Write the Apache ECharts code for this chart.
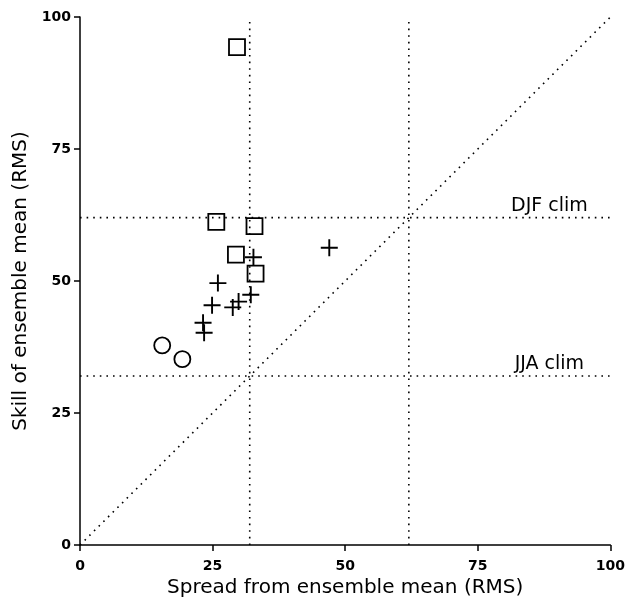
<!DOCTYPE html>
<html>
<head>
    <meta charset="utf-8" />
    <title>Spread vs skill</title>
    <script src="https://cdn.jsdelivr.net/npm/echarts@6/dist/echarts.min.js"></script>
    <style>
        html, body { margin: 0; padding: 0; background: #fff; }
        #chart { width: 628px; height: 606px; }
    </style>
</head>
<body>
    <div id="chart"></div>

    <script type="text/javascript">
        // data: [spread, skill]
        var squarePts = [[29.6, 94.3], [25.7, 61.2], [32.9, 60.4], [29.4, 55.0], [33.1, 51.4]];
        var plusPts = [[47.0, 56.3], [32.7, 54.5], [26.0, 49.6], [24.9, 45.4], [23.2, 42.1],
                       [23.4, 40.2], [28.8, 45.0], [29.9, 46.1], [32.2, 47.4]];
        var circlePts = [[15.5, 37.8], [19.3, 35.2]];

        // climatology levels (same on both axes)
        var climNames = ['DJF clim', 'JJA clim'];
        var climValues = [62, 32];
        var axisTicks = [0, 25, 50, 75, 100];

        var ink = '#000';
        var font = 'DejaVu Sans';
        var dotStyle = { color: ink, width: 1.6, type: [1.6, 5] };

        var plusPath = 'path://M7.1,0h1.8v7.1h7.1v1.8h-7.1v7.1h-1.8v-7.1h-7.1v-1.8h7.1z';

        function refLine(pts) {
            return {
                type: 'line',
                data: pts,
                symbol: 'none',
                silent: true,
                lineStyle: dotStyle,
                z: 1
            };
        }

        var series = [];
        // horizontal and vertical climatology lines
        climValues.forEach(function(v) {
            series.push(refLine([[0, v], [100, v]]));
            series.push(refLine([[v, 0], [v, 100]]));
        });
        // diagonal: spread == skill
        series.push(refLine([[axisTicks[0], axisTicks[0]], [axisTicks[4], axisTicks[4]]]));

        series.push({
            type: 'scatter',
            data: squarePts,
            symbol: 'rect',
            symbolSize: 16,
            itemStyle: { color: 'rgba(255,255,255,0)', borderColor: ink, borderWidth: 1.8, opacity: 1 },
            z: 3
        });
        series.push({
            type: 'scatter',
            data: plusPts,
            symbol: plusPath,
            symbolSize: 17,
            itemStyle: { color: ink, opacity: 1 },
            z: 3
        });
        series.push({
            type: 'scatter',
            data: circlePts,
            symbol: 'circle',
            symbolSize: 16,
            itemStyle: { color: 'rgba(255,255,255,0)', borderColor: ink, borderWidth: 1.8, opacity: 1 },
            z: 3
        });
        // text labels above the climatology lines
        series.push({
            type: 'scatter',
            data: climNames.map(function(n, i) { return [88.5, climValues[i], n]; }),
            symbolSize: 0,
            silent: true,
            itemStyle: { opacity: 1 },
            label: {
                show: true,
                position: 'top',
                distance: 2,
                formatter: function(p) { return p.value[2]; },
                color: ink,
                opacity: 1,
                fontFamily: font,
                fontSize: 19
            }
        });

        var chart = echarts.init(document.getElementById('chart'));
        chart.setOption({
            animation: false,
            grid: { left: 80, right: 15, top: 17, bottom: 61 },
            xAxis: {
                type: 'value',
                min: 0,
                max: 100,
                interval: 25,
                name: 'Spread from ensemble mean (RMS)',
                nameLocation: 'middle',
                nameGap: 32,
                nameTextStyle: { color: ink, fontFamily: font, fontSize: 20 },
                axisLine: { lineStyle: { color: ink, width: 1.5 } },
                axisTick: { lineStyle: { color: ink, width: 1.5 }, length: 6 },
                axisLabel: { color: ink, fontFamily: font, fontWeight: 'bold', fontSize: 14, margin: 14 },
                splitLine: { show: false }
            },
            yAxis: {
                type: 'value',
                min: 0,
                max: 100,
                interval: 25,
                name: 'Skill of ensemble mean (RMS)',
                nameLocation: 'middle',
                nameGap: 43,
                nameTextStyle: { color: ink, fontFamily: font, fontSize: 20 },
                axisLine: { lineStyle: { color: ink, width: 1.5 } },
                axisTick: { lineStyle: { color: ink, width: 1.5 }, length: 6 },
                axisLabel: { color: ink, fontFamily: font, fontWeight: 'bold', fontSize: 14, margin: 9 },
                splitLine: { show: false }
            },
            series: series
        });
    </script>
</body>
</html>
